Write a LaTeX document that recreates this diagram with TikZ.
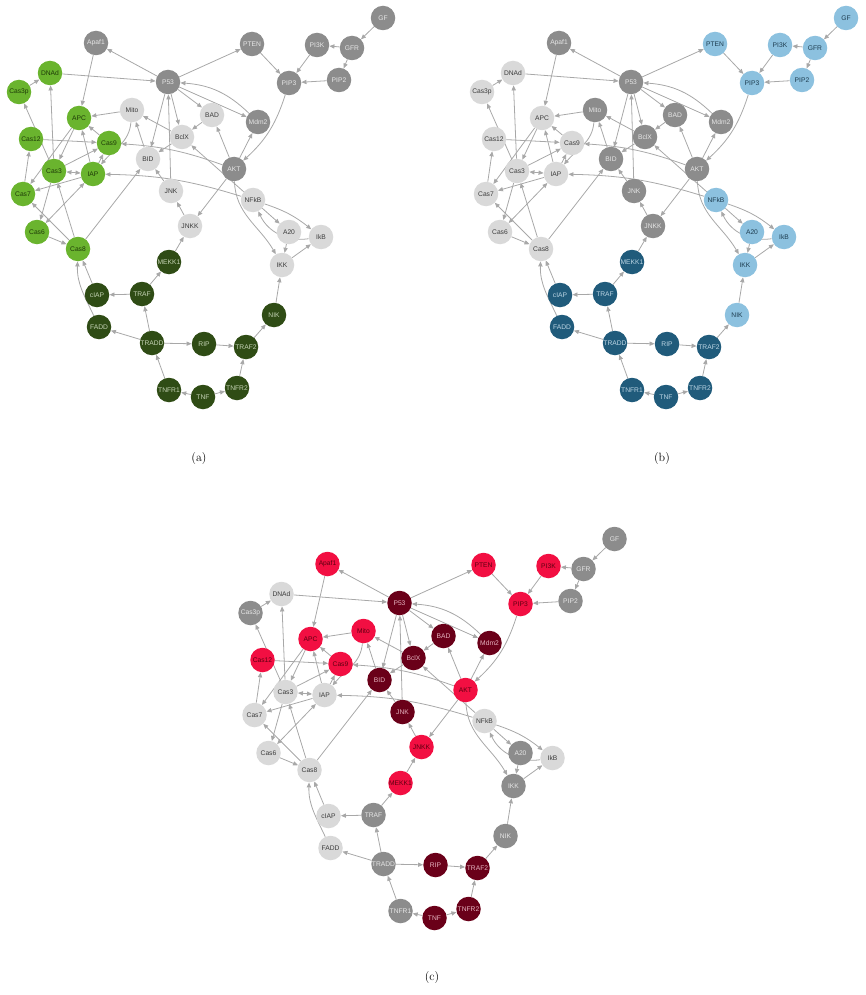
\documentclass[tikz,border=0pt]{standalone}
\usepackage{fontspec}
\newfontfamily\nodefont{Liberation Sans}
\usetikzlibrary{arrows.meta}
\pgfdeclarelayer{bg}
\pgfsetlayers{bg,main}
\definecolor{edgec}{HTML}{A8A8A8}
\definecolor{cLGR}{HTML}{6AB42E}\definecolor{tLGR}{HTML}{1E3A08}
\definecolor{cDGR}{HTML}{2F4C15}\definecolor{tDGR}{HTML}{C5D3B5}
\definecolor{cDGY}{HTML}{8C8C8C}\definecolor{tDGY}{HTML}{E6E6E6}
\definecolor{cLGY}{HTML}{D9D9D9}\definecolor{tLGY}{HTML}{3C3C3C}
\definecolor{cLBL}{HTML}{8CC1DF}\definecolor{tLBL}{HTML}{1E3D50}
\definecolor{cDBL}{HTML}{205B7B}\definecolor{tDBL}{HTML}{BCD5E4}
\definecolor{cRED}{HTML}{F20F42}\definecolor{tRED}{HTML}{5C0010}
\definecolor{cDRD}{HTML}{6A0019}\definecolor{tDRD}{HTML}{E5B3BF}
\tikzset{
  nd/.style={circle,minimum size=24.5pt,inner sep=0pt,font=\nodefont\fontsize{6.7}{7}\selectfont},
  LGR/.style={fill=cLGR,text=tLGR},
  DGR/.style={fill=cDGR,text=tDGR},
  DGY/.style={fill=cDGY,text=tDGY},
  LGY/.style={fill=cLGY,text=tLGY},
  LBL/.style={fill=cLBL,text=tLBL},
  DBL/.style={fill=cDBL,text=tDBL},
  RED/.style={fill=cRED,text=tRED},
  DRD/.style={fill=cDRD,text=tDRD},
  >={Triangle[length=5pt,width=4.2pt]},
  e/.style={draw=edgec,line width=0.8pt,->},
  e2/.style={draw=edgec,line width=0.8pt,<->},
  captxt/.style={font=\fontsize{12}{14}\selectfont}
}
\newcommand\setcls[2]{\foreach \cn in {#2}{\expandafter\xdef\csname cls\cn\endcsname{#1}}}
\newcommand\nd[3]{\edef\tmp{\noexpand\node[nd,\csname cls#1\endcsname] (\pfx-#1) at (#2,-#3) {#1};}\tmp}
\newcommand\net{%
 \nd{GF}{383}{18}
 \nd{PI3K}{317}{45}
 \nd{GFR}{352}{48}
 \nd{PTEN}{252}{44}
 \nd{Apaf1}{96}{43}
 \nd{PIP2}{339}{80}
 \nd{PIP3}{289}{83}
 \nd{P53}{168}{82}
 \nd{DNAd}{50}{73}
 \nd{Cas3p}{19}{92}
 \nd{Mito}{132}{110}
 \nd{BAD}{212}{115}
 \nd{Mdm2}{258}{122}
 \nd{APC}{79}{118}
 \nd{BclX}{182}{137}
 \nd{Cas12}{31}{139}
 \nd{Cas9}{109}{143}
 \nd{BID}{148}{159}
 \nd{AKT}{234}{169}
 \nd{Cas3}{54}{171}
 \nd{IAP}{93}{174}
 \nd{Cas7}{23}{194}
 \nd{JNK}{171}{191}
 \nd{NFkB}{253}{200}
 \nd{Cas6}{37}{232}
 \nd{Cas8}{78}{249}
 \nd{JNKK}{190}{226}
 \nd{A20}{289}{232}
 \nd{IkB}{321}{237}
 \nd{IKK}{282}{265}
 \nd{MEKK1}{169}{262}
 \nd{TRAF}{142}{294}
 \nd{cIAP}{97}{295}
 \nd{NIK}{274}{315}
 \nd{FADD}{99}{327}
 \nd{TRADD}{152}{343}
 \nd{RIP}{204}{344}
 \nd{TRAF2}{246}{347}
 \nd{TNFR1}{169}{390}
 \nd{TNF}{203}{397}
 \nd{TNFR2}{237}{388}
 \begin{pgfonlayer}{bg}
 \draw[e] (\pfx-GF) -- (\pfx-GFR);
 \draw[e] (\pfx-GFR) -- (\pfx-PI3K);
 \draw[e] (\pfx-GFR) -- (\pfx-PIP2);
 \draw[e] (\pfx-PI3K) -- (\pfx-PIP3);
 \draw[e] (\pfx-PIP2) -- (\pfx-PIP3);
 \draw[e] (\pfx-PTEN) -- (\pfx-PIP3);
 \draw[e] (\pfx-P53) -- (\pfx-PTEN);
 \draw[e] (\pfx-P53) -- (\pfx-Apaf1);
 \draw[e] (\pfx-Apaf1) -- (\pfx-APC);
 \draw[e] (\pfx-DNAd) -- (\pfx-P53);
 \draw[e] (\pfx-Cas3p) -- (\pfx-DNAd);
 \draw[e] (\pfx-P53) -- (\pfx-BAD);
 \draw[e] (\pfx-P53) -- (\pfx-BclX);
 \draw[e] (\pfx-P53) -- (\pfx-BID);
 \draw[e] (\pfx-P53) -- (\pfx-Mdm2);
 \draw[e] (\pfx-Mdm2) to[bend right=20] (\pfx-P53);
 \draw[e] (\pfx-JNK) -- (\pfx-P53);
 \draw[e] (\pfx-PIP3) to[bend left=15] (\pfx-AKT);
 \draw[e] (\pfx-AKT) -- (\pfx-BAD);
 \draw[e] (\pfx-AKT) -- (\pfx-Mdm2);
 \draw[e] (\pfx-AKT) -- (\pfx-JNKK);
 \draw[e] (\pfx-AKT) to[out=-88,in=120] (\pfx-IKK);
 \draw[e] (\pfx-AKT) to[bend right=8] (\pfx-Cas9);
 \draw[e] (\pfx-BAD) -- (\pfx-BclX);
 \draw[e] (\pfx-BclX) -- (\pfx-Mito);
 \draw[e] (\pfx-BclX) -- (\pfx-BID);
 \draw[e] (\pfx-BID) -- (\pfx-Mito);
 \draw[e] (\pfx-Mito) -- (\pfx-APC);
 \draw[e] (\pfx-Mito) to[out=-95,in=50] (\pfx-IAP);
 \draw[e] (\pfx-NFkB) -- (\pfx-BclX);
 \draw[e] (\pfx-NFkB) to[bend right=8] (\pfx-IAP);
 \draw[e] (\pfx-NFkB) -- (\pfx-A20);
 \draw[e] (\pfx-NFkB) to[bend left=10] (\pfx-IkB);
 \draw[e] (\pfx-IkB) to[out=188,in=-65] (\pfx-NFkB);
 \draw[e] (\pfx-IKK) -- (\pfx-IkB);
 \draw[e] (\pfx-A20) -- (\pfx-IKK);
 \draw[e] (\pfx-NIK) -- (\pfx-IKK);
 \draw[e] (\pfx-TRAF2) -- (\pfx-NIK);
 \draw[e] (\pfx-RIP) -- (\pfx-TRAF2);
 \draw[e] (\pfx-TNFR2) -- (\pfx-TRAF2);
 \draw[e] (\pfx-TNF) -- (\pfx-TNFR2);
 \draw[e] (\pfx-TNF) -- (\pfx-TNFR1);
 \draw[e] (\pfx-TNFR1) -- (\pfx-TRADD);
 \draw[e] (\pfx-TRADD) -- (\pfx-RIP);
 \draw[e] (\pfx-TRADD) -- (\pfx-FADD);
 \draw[e] (\pfx-TRADD) -- (\pfx-TRAF);
 \draw[e] (\pfx-TRAF) -- (\pfx-cIAP);
 \draw[e] (\pfx-TRAF) -- (\pfx-MEKK1);
 \draw[e] (\pfx-MEKK1) -- (\pfx-JNKK);
 \draw[e] (\pfx-JNKK) -- (\pfx-JNK);
 \draw[e] (\pfx-JNK) -- (\pfx-BID);
 \draw[e] (\pfx-cIAP) -- (\pfx-Cas8);
 \draw[e] (\pfx-FADD) to[out=115,in=-92] (\pfx-Cas8);
 \draw[e] (\pfx-Cas8) -- (\pfx-BID);
 \draw[e] (\pfx-Cas8) -- (\pfx-Cas3);
 \draw[e] (\pfx-Cas8) -- (\pfx-Cas7);
 \draw[e] (\pfx-Cas6) -- (\pfx-Cas8);
 \draw[e] (\pfx-Cas3) -- (\pfx-Cas6);
 \draw[e2] (\pfx-Cas6) -- (\pfx-IAP);
 \draw[e2] (\pfx-Cas3) -- (\pfx-IAP);
 \draw[e] (\pfx-Cas3) -- (\pfx-Cas3p);
 \draw[e] (\pfx-Cas3) -- (\pfx-DNAd);
 \draw[e] (\pfx-Cas3) -- (\pfx-Cas9);
 \draw[e] (\pfx-Cas12) -- (\pfx-Cas9);
 \draw[e] (\pfx-Cas7) -- (\pfx-Cas12);
 \draw[e] (\pfx-APC) -- (\pfx-Cas3);
 \draw[e] (\pfx-APC) -- (\pfx-Cas7);
 \draw[e] (\pfx-Cas9) -- (\pfx-APC);
 \draw[e] (\pfx-IAP) -- (\pfx-APC);
 \draw[e] (\pfx-IAP) -- (\pfx-Cas7);
 \draw[e] (\pfx-IAP) -- (\pfx-Cas9);
 \end{pgfonlayer}
}
\begin{document}
\begin{tikzpicture}[x=1pt,y=1pt]
\useasboundingbox (0,0) rectangle (865,-995);
% panel (a)
\begin{scope}
\def\pfx{a}
\setcls{LGR}{DNAd,Cas3p,APC,Cas12,Cas9,Cas3,IAP,Cas7,Cas6,Cas8}
\setcls{DGR}{MEKK1,TRAF,cIAP,FADD,TRADD,RIP,TRAF2,NIK,TNFR1,TNF,TNFR2}
\setcls{DGY}{GF,PI3K,GFR,PTEN,Apaf1,PIP2,PIP3,P53,Mdm2,AKT}
\setcls{LGY}{Mito,BAD,BclX,BID,JNK,NFkB,JNKK,A20,IkB,IKK}
\net
\end{scope}
% panel (b)
\begin{scope}[shift={(463,0)}]
\def\pfx{b}
\setcls{LBL}{GF,PI3K,GFR,PTEN,PIP2,PIP3,NFkB,A20,IkB,IKK,NIK}
\setcls{DBL}{MEKK1,TRAF,cIAP,FADD,TRADD,RIP,TRAF2,TNFR1,TNF,TNFR2}
\setcls{DGY}{Apaf1,P53,Mito,BAD,Mdm2,BclX,BID,AKT,JNK,JNKK}
\setcls{LGY}{DNAd,Cas3p,APC,Cas12,Cas9,Cas3,IAP,Cas7,Cas6,Cas8}
\net
\end{scope}
% panel (c)
\begin{scope}[shift={(231.5,-521)}]
\def\pfx{c}
\setcls{RED}{Apaf1,PTEN,PI3K,PIP3,APC,Mito,Cas12,Cas9,AKT,JNKK,MEKK1}
\setcls{DRD}{P53,BAD,Mdm2,BclX,BID,JNK,RIP,TRAF2,TNFR2,TNF}
\setcls{DGY}{GF,GFR,PIP2,Cas3p,A20,IKK,NIK,TRAF,TRADD,TNFR1}
\setcls{LGY}{DNAd,Cas3,IAP,Cas7,Cas6,Cas8,NFkB,IkB,cIAP,FADD}
\net
\end{scope}
\node[captxt] (capa) at (199,-459) {(a)};
\node[captxt] (capb) at (662,-459) {(b)};
\node[captxt] (capc) at (432,-977) {(c)};
\end{tikzpicture}
\end{document}
